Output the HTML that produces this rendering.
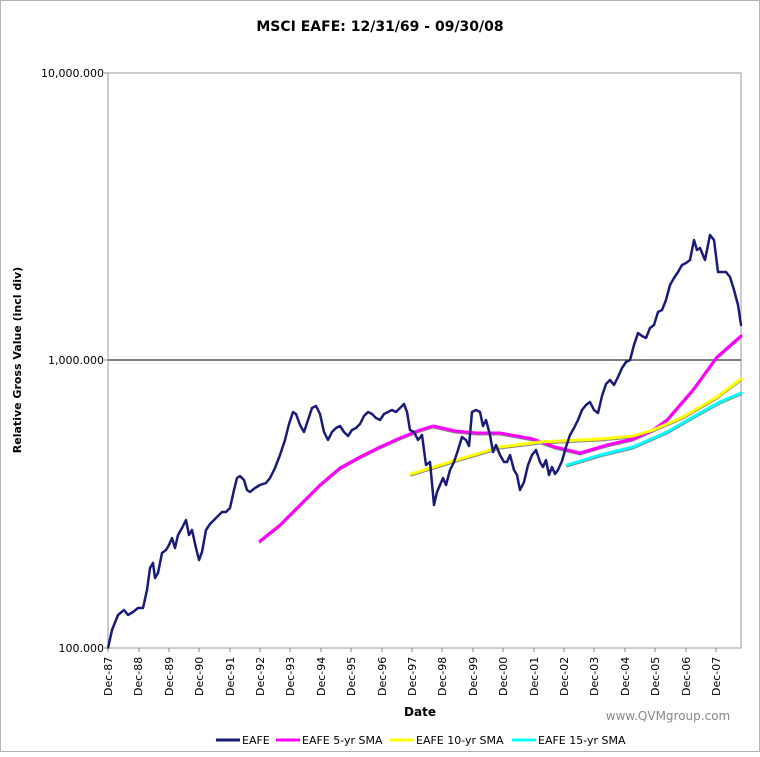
<!DOCTYPE html>
<html><head><style>
html,body{margin:0;padding:0;background:#fff;}
body{width:760px;height:752px;overflow:hidden;}
text{font-family:"DejaVu Sans","Liberation Sans",sans-serif;}
</style></head><body>
<svg width="760" height="752" viewBox="0 0 760 752" xmlns="http://www.w3.org/2000/svg">
<rect x="0.5" y="0.5" width="759" height="751" fill="#fff" stroke="#666" stroke-dasharray="1,1"/>
<text x="380" y="31" text-anchor="middle" font-size="14" font-weight="bold">MSCI EAFE: 12/31/69 - 09/30/08</text>
<rect x="108" y="73" width="633" height="575" fill="#fff" stroke="#999" stroke-width="1"/>
<line x1="108" y1="360" x2="741" y2="360" stroke="#555" stroke-width="1.5"/>
<g font-size="11" text-anchor="end">
<text x="104" y="77">10,000.000</text>
<text x="104" y="364">1,000.000</text>
<text x="104" y="652">100.000</text>
</g>
<text transform="translate(21,360) rotate(-90)" text-anchor="middle" font-size="11" font-weight="bold">Relative Gross Value (incl div)</text>
<g id="ticks" stroke="#888"></g>
<g font-size="11" id="xl"></g>
<text x="420" y="716" text-anchor="middle" font-size="12" font-weight="bold">Date</text>
<text x="668" y="720" text-anchor="middle" font-size="12" fill="#888" font-family="Liberation Sans">www.QVMgroup.com</text>
<g font-size="11">
<line x1="216" y1="740" x2="240" y2="740" stroke="#1a1a7a" stroke-width="3"/><text x="242" y="744">EAFE</text>
<line x1="276" y1="740" x2="300" y2="740" stroke="#ff00ff" stroke-width="3"/><text x="302" y="744">EAFE 5-yr SMA</text>
<line x1="390" y1="740" x2="414" y2="740" stroke="#ffff00" stroke-width="3"/><text x="416" y="744">EAFE 10-yr SMA</text>
<line x1="512" y1="740" x2="536" y2="740" stroke="#00ffff" stroke-width="3"/><text x="538" y="744">EAFE 15-yr SMA</text>
</g>
<g fill="none" stroke-linejoin="round" stroke-linecap="round">
<g transform="translate(0,1.5)" stroke="#888" stroke-width="2">
<polyline points="260,541 280,525 300,505 320,485 340,468 360,457 380,447 400,438 420,430 433,426 455,431 477,433 500,433 533,439 555,447 580,453 607,445 633,439 653,430 667,420 693,390 717,357 741,336"/>
<polyline points="411,474 450,462 500,447 540,442 600,439 633,436 653,430 683,417 717,397 741,379"/>
<polyline points="567,465 600,455 633,447 667,432 700,413 720,402 741,393"/>
</g>
<polyline stroke="#ff00ff" stroke-width="3" points="260,541 280,525 300,505 320,485 340,468 360,457 380,447 400,438 420,430 433,426 455,431 477,433 500,433 533,439 555,447 580,453 607,445 633,439 653,430 667,420 693,390 717,357 741,336"/>
<polyline stroke="#ffff00" stroke-width="3" points="411,474 450,462 500,447 540,442 600,439 633,436 653,430 683,417 717,397 741,379"/>
<polyline stroke="#00ffff" stroke-width="3" points="567,465 600,455 633,447 667,432 700,413 720,402 741,393"/>
<polyline stroke="#1a1a7a" stroke-width="2.5" points="108,648 112,630 118,615 124,610 128,615 133,612 138,608 143,608 147,590 150,568 153,563 155,578 158,573 162,553 166,550 169,545 172,538 175,548 178,535 182,528 186,520 189,535 192,530 196,548 199,560 202,552 206,530 210,524 214,520 218,516 222,512 226,512 230,508 234,490 237,478 240,476 244,480 247,490 250,492 255,488 260,485 266,483 270,478 275,468 280,455 285,440 289,424 293,412 296,414 300,425 304,432 308,420 312,408 316,406 320,414 324,432 328,440 332,432 336,428 340,426 344,432 348,436 352,430 356,428 360,424 364,416 368,412 372,414 376,418 380,420 384,414 388,412 392,410 396,412 400,408 404,404 407,412 410,430 414,432 418,440 422,435 426,465 430,462 434,505 437,492 440,485 443,478 446,485 450,470 454,462 458,450 462,437 466,440 469,446 472,412 476,410 480,412 483,426 486,420 490,435 493,452 496,445 500,455 504,462 507,462 510,455 514,470 517,475 520,490 524,482 528,465 532,455 536,450 540,462 543,467 546,460 549,475 552,467 555,474 558,470 562,461 566,447 570,435 574,428 578,420 582,410 586,405 590,402 594,410 598,413 602,396 606,384 610,380 614,385 618,377 622,368 626,362 630,360 634,345 638,333 642,336 646,338 650,328 654,325 658,312 662,310 666,300 670,285 674,278 678,272 682,265 686,263 690,260 694,240 697,250 700,248 705,260 710,235 714,240 718,272 722,272 726,272 730,277 734,290 738,305 741,325"/>
</g>
<g font-size="11">
<text transform="translate(112,696) rotate(-90)">Dec-87</text>
<text transform="translate(142,696) rotate(-90)">Dec-88</text>
<text transform="translate(173,696) rotate(-90)">Dec-89</text>
<text transform="translate(203,696) rotate(-90)">Dec-90</text>
<text transform="translate(234,696) rotate(-90)">Dec-91</text>
<text transform="translate(264,696) rotate(-90)">Dec-92</text>
<text transform="translate(294,696) rotate(-90)">Dec-93</text>
<text transform="translate(325,696) rotate(-90)">Dec-94</text>
<text transform="translate(355,696) rotate(-90)">Dec-95</text>
<text transform="translate(386,696) rotate(-90)">Dec-96</text>
<text transform="translate(416,696) rotate(-90)">Dec-97</text>
<text transform="translate(446,696) rotate(-90)">Dec-98</text>
<text transform="translate(477,696) rotate(-90)">Dec-99</text>
<text transform="translate(507,696) rotate(-90)">Dec-00</text>
<text transform="translate(538,696) rotate(-90)">Dec-01</text>
<text transform="translate(568,696) rotate(-90)">Dec-02</text>
<text transform="translate(598,696) rotate(-90)">Dec-03</text>
<text transform="translate(629,696) rotate(-90)">Dec-04</text>
<text transform="translate(659,696) rotate(-90)">Dec-05</text>
<text transform="translate(690,696) rotate(-90)">Dec-06</text>
<text transform="translate(720,696) rotate(-90)">Dec-07</text>
</g>
<g stroke="#888">
<line x1="108" y1="648" x2="108" y2="652"/><line x1="139" y1="648" x2="139" y2="652"/><line x1="169" y1="648" x2="169" y2="652"/><line x1="199" y1="648" x2="199" y2="652"/><line x1="230" y1="648" x2="230" y2="652"/><line x1="260" y1="648" x2="260" y2="652"/><line x1="290" y1="648" x2="290" y2="652"/><line x1="321" y1="648" x2="321" y2="652"/><line x1="351" y1="648" x2="351" y2="652"/><line x1="382" y1="648" x2="382" y2="652"/><line x1="412" y1="648" x2="412" y2="652"/><line x1="442" y1="648" x2="442" y2="652"/><line x1="473" y1="648" x2="473" y2="652"/><line x1="503" y1="648" x2="503" y2="652"/><line x1="534" y1="648" x2="534" y2="652"/><line x1="564" y1="648" x2="564" y2="652"/><line x1="594" y1="648" x2="594" y2="652"/><line x1="625" y1="648" x2="625" y2="652"/><line x1="655" y1="648" x2="655" y2="652"/><line x1="686" y1="648" x2="686" y2="652"/><line x1="716" y1="648" x2="716" y2="652"/>
<line x1="104" y1="73" x2="108" y2="73"/><line x1="104" y1="360" x2="108" y2="360"/><line x1="104" y1="648" x2="108" y2="648"/>
</g>
</svg>
</body></html>
